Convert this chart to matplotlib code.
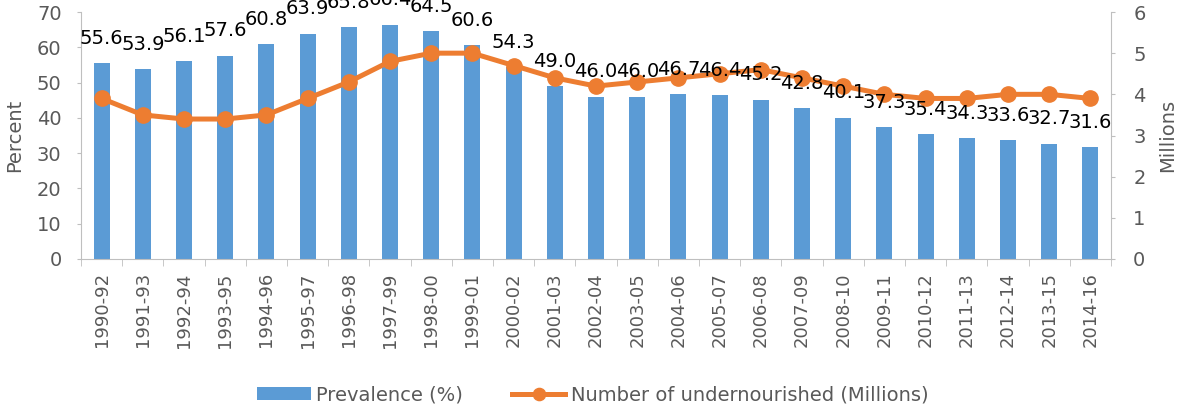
import matplotlib.pyplot as plt
import numpy as np

plt.rcParams['font.family'] = ['DejaVu Sans']

periods = ['1990-92', '1991-93', '1992-94', '1993-95', '1994-96', '1995-97',
           '1996-98', '1997-99', '1998-00', '1999-01', '2000-02', '2001-03',
           '2002-04', '2003-05', '2004-06', '2005-07', '2006-08', '2007-09',
           '2008-10', '2009-11', '2010-12', '2011-13', '2012-14', '2013-15',
           '2014-16']
prevalence = [55.6, 53.9, 56.1, 57.6, 60.8, 63.9, 65.8, 66.4, 64.5, 60.6,
              54.3, 49.0, 46.0, 46.0, 46.7, 46.4, 45.2, 42.8, 40.1, 37.3,
              35.4, 34.3, 33.6, 32.7, 31.6]
undernourished = [3.9, 3.5, 3.4, 3.4, 3.5, 3.9, 4.3, 4.8, 5.0, 5.0,
                  4.7, 4.4, 4.2, 4.3, 4.4, 4.5, 4.6, 4.4, 4.2, 4.0,
                  3.9, 3.9, 4.0, 4.0, 3.9]

blue = '#5B9BD5'
orange = '#ED7D31'
grey = '#595959'
spine = '#BFBFBF'

fig = plt.figure(figsize=(11.79, 4.08), dpi=100)
ax = fig.add_axes([81 / 1179, 1 - 259 / 408, (1111 - 81) / 1179, (259 - 12) / 408])
x = np.arange(len(periods))

bars = ax.bar(x, prevalence, width=0.39, color=blue, zorder=2)

ax.set_xlim(-0.5, len(periods) - 0.5)
ax.set_ylim(0, 70)
ax.set_yticks(range(0, 71, 10))
ax.set_ylabel('Percent', fontsize=14, color=grey, labelpad=9)

ax.set_xticks(x)
ax.set_xticklabels(periods, rotation=90, fontsize=13, color=grey)
ax.set_xticks(np.arange(-0.5, len(periods), 1), minor=True)
ax.tick_params(axis='x', which='major', length=0, pad=9.5)
ax.tick_params(axis='x', which='minor', length=5, color=spine)
ax.tick_params(axis='y', labelsize=14, labelcolor=grey, color=spine,
               length=3, pad=11)

ax2 = ax.twinx()
line, = ax2.plot(x, undernourished, color=orange, lw=3.6, marker='o',
                 markersize=11, zorder=3)
ax2.set_ylim(0, 6)
ax2.set_yticks(range(0, 7))
ax2.set_ylabel('Millions', fontsize=14, color=grey, labelpad=9)
ax2.tick_params(axis='y', labelsize=14, labelcolor=grey, color=spine,
                length=3, pad=13)

# data labels drawn on the top axes so they sit over the line
for xi, v in zip(x, prevalence):
    ax2.annotate(f'{v:.1f}', (xi, v), xycoords=ax.transData,
                 xytext=(0, 11), textcoords='offset points',
                 ha='center', va='bottom', fontsize=14, color='black',
                 zorder=5, annotation_clip=False)

for a in (ax, ax2):
    a.spines['top'].set_visible(False)
    for s in ('left', 'right', 'bottom'):
        a.spines[s].set_color(spine)
ax.spines['right'].set_visible(False)
ax2.spines['left'].set_visible(False)
ax2.spines['bottom'].set_visible(False)

fig.legend([bars, line], ['Prevalence (%)', 'Number of undernourished (Millions)'],
           loc='center', bbox_to_anchor=(0.503, 0.032), ncol=2, frameon=False,
           fontsize=14, labelcolor=grey, handlelength=2.75, columnspacing=2.5,
           handletextpad=0.3, markerscale=0.8)

fig.savefig('out.png', dpi=100)
